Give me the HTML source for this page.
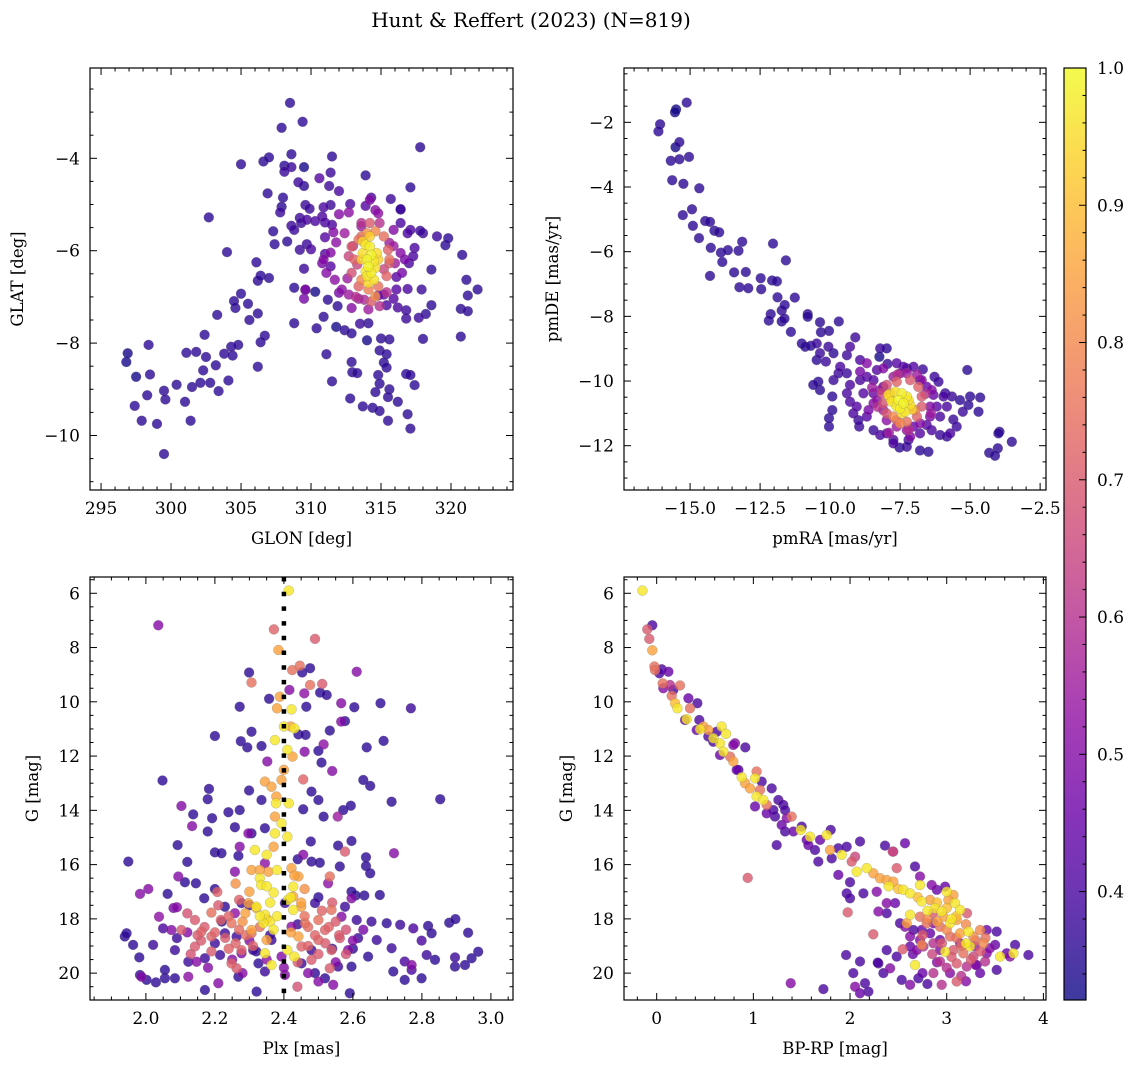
<!DOCTYPE html>
<html><head><meta charset="utf-8">
<style>
html,body{margin:0;padding:0;background:#fff;}
svg{display:block;font-family:"DejaVu Serif","Liberation Serif",serif;}
</style></head>
<body>
<svg id="chart" width="1136" height="1067" viewBox="0 0 1136 1067" xmlns="http://www.w3.org/2000/svg">
<text x="531" y="27" text-anchor="middle" font-size="20">Hunt &amp; Reffert (2023) (N=819)</text>
</svg>
<script>
// ---------- DATA ----------
// Panel 1: [GLON, GLAT, membership probability]
const skyPos = [
[296.8,-8.41,.33],[296.9,-8.22,.33],[298.4,-8.04,.36],[297.5,-8.73,.33],[298.5,-8.68,.36],[297.4,-9.36,.36],[298.3,-9.13,.36],[297.9,-9.68,.36],[299.0,-9.75,.36],[299.5,-9.03,.36],[299.6,-9.22,.36],[299.5,-10.4,.36],[300.4,-8.9,.36],[301.0,-9.27,.36],[301.4,-9.68,.36],[301.1,-8.21,.36],[301.8,-8.19,.36],[301.5,-8.95,.36],[302.1,-8.86,.36],[302.5,-8.3,.36],[302.3,-8.59,.36],[302.4,-7.82,.36],[302.8,-8.86,.36],[303.2,-8.48,.36],[303.4,-9.04,.36],[303.3,-7.39,.36],[303.8,-8.23,.36],[304.1,-8.81,.36],[304.4,-8.27,.36],[304.3,-8.08,.36],[304.8,-8.04,.36],[304.6,-7.24,.36],[304.5,-7.09,.36],[305.0,-6.93,.36],[305.5,-7.15,.36],[305.6,-7.5,.36],[306.2,-8.51,.36],[306.2,-7.36,.36],[306.4,-7.98,.36],[306.7,-7.84,.36],[306.2,-6.65,.36],[306.4,-6.54,.36],[307.0,-6.59,.36],[306.1,-6.25,.36],[304.0,-6.03,.36],[302.7,-5.28,.36],[305.0,-4.13,.36],[306.6,-4.07,.36],[307.0,-3.98,.36],[307.9,-3.34,.36],[308.5,-2.8,.36],[309.4,-3.21,.36],[308.6,-3.91,.36],[308.1,-4.16,.36],[308.6,-4.19,.38],[309.5,-4.19,.33],[308.1,-4.29,.38],[311.5,-3.96,.36],[311.4,-4.31,.38],[310.6,-4.43,.42],[309.1,-4.52,.38],[309.5,-4.6,.36],[311.3,-4.6,.38],[312.0,-4.71,.4],[306.9,-4.76,.36],[308.0,-4.85,.36],[307.8,-5.17,.38],[307.9,-5.05,.36],[307.3,-5.58,.36],[307.4,-5.86,.36],[308.3,-5.8,.36],[308.6,-5.46,.38],[308.8,-5.55,.38],[309.2,-5.29,.38],[309.6,-5.01,.38],[309.9,-5.09,.38],[309.7,-5.33,.4],[309.3,-5.4,.38],[310.3,-5.36,.4],[310.9,-5.06,.4],[311.4,-5.01,.38],[310.8,-5.26,.4],[311.0,-5.39,.4],[311.5,-5.44,.4],[312.8,-4.99,.4],[313.9,-5.03,.42],[314.3,-4.85,.4],[315.7,-4.88,.38],[316.4,-5.11,.38],[317.1,-4.63,.36],[313.9,-4.37,.36],[317.8,-3.76,.36],[309.7,-5.86,.38],[309.2,-5.98,.38],[310.0,-5.97,.4],[309.5,-6.39,.38],[308.8,-6.8,.36],[309.6,-6.85,.38],[310.3,-6.89,.33],[311.4,-6.34,.42],[311.0,-6.07,.42],[311.0,-5.71,.42],[311.2,-7.06,.36],[311.9,-7.2,.36],[310.9,-7.43,.36],[310.4,-7.68,.36],[308.8,-7.57,.36],[311.8,-7.65,.33],[312.4,-7.72,.36],[312.9,-7.79,.36],[313.5,-7.58,.38],[314.1,-7.57,.36],[314.0,-7.94,.33],[315.0,-7.9,.36],[315.6,-7.92,.36],[314.9,-8.16,.36],[315.4,-8.24,.36],[315.2,-8.42,.36],[315.4,-8.53,.36],[312.9,-8.41,.36],[312.95,-8.63,.36],[313.3,-8.65,.36],[311.5,-8.83,.36],[311.1,-8.24,.36],[314.8,-8.69,.36],[314.9,-8.88,.36],[314.6,-9.06,.36],[315.6,-9.0,.36],[315.5,-9.17,.36],[316.2,-9.27,.36],[312.8,-9.2,.36],[313.7,-9.37,.36],[314.4,-9.4,.36],[314.9,-9.47,.36],[315.5,-9.68,.36],[316.9,-9.54,.36],[317.1,-9.85,.36],[316.8,-8.67,.36],[317.1,-8.69,.36],[317.4,-8.91,.36],[318.0,-7.91,.36],[317.7,-7.45,.38],[318.2,-7.37,.36],[318.6,-7.18,.36],[316.8,-7.47,.38],[316.8,-7.29,.38],[316.2,-7.23,.4],[315.4,-7.18,.4],[320.7,-7.86,.36],[320.7,-7.26,.36],[321.2,-7.31,.36],[321.2,-6.97,.36],[321.1,-6.63,.36],[321.9,-6.84,.36],[320.8,-6.09,.36],[318.6,-6.41,.36],[319.6,-5.88,.36],[319.8,-5.73,.36],[319.0,-5.69,.38],[318.0,-5.62,.38],[317.8,-5.57,.38],[317.1,-5.55,.4],[316.4,-5.4,.4],[316.4,-5.1,.38],[316.9,-5.62,.4],[317.4,-5.94,.4],[317.0,-6.27,.4],[317.3,-6.12,.4],[317.9,-6.84,.38],[316.9,-6.83,.4],[316.1,-6.84,.42],[316.1,-6.57,.42],[315.9,-7.04,.42],[314.8,-6.97,.45],[315.2,-6.95,.45],
[312.0,-5.21,.5],[312.7,-5.17,.52],[311.6,-5.6,.5],[312.4,-5.62,.55],[311.8,-5.82,.52],[311.4,-6.04,.5],[310.8,-6.27,.48],[311.1,-6.48,.5],[310.9,-6.19,.5],[311.7,-6.63,.52],[312.2,-6.84,.52],[312.7,-6.95,.55],[313.4,-7.04,.55],[314.1,-7.27,.55],[314.2,-4.9,.5],[314.6,-5.12,.5],[313.6,-5.47,.55],[316.4,-6.05,.5],[316.5,-6.48,.48],[316.0,-6.27,.55],[316.7,-6.19,.48],[315.6,-5.83,.55],[315.9,-5.55,.5],[314.8,-5.19,.52],[313.8,-7.06,.58],[312.9,-7.24,.5],[312.0,-6.91,.48],[309.6,-6.84,.5],[309.5,-7.04,.48],
[313.3,-6.3,.65],[315.2,-6.4,.65],[313.6,-5.4,.6],[314.9,-5.4,.6],[313.2,-7.0,.6],[314.9,-7.2,.6],[312.6,-6.6,.55],[315.9,-5.9,.55],[314.3,-7.1,.7],[314.2,-5.4,.7],[313.0,-5.9,.62],[315.4,-6.9,.6],
[312.9,-5.91,.7],[313.1,-6.19,.72],[312.9,-6.48,.68],[313.4,-6.77,.72],[314.1,-6.84,.78],[314.8,-6.77,.75],[315.4,-6.55,.72],[315.6,-6.27,.7],[315.5,-5.98,.72],[315.2,-5.69,.75],[314.6,-5.58,.8],[313.6,-5.69,.75],[314.0,-5.62,.82],[312.7,-6.12,.65],[313.6,-6.63,.8],[314.6,-6.99,.82],[313.4,-5.76,.75],[315.6,-6.19,.75],
[313.9,-5.87,.97],[314.2,-5.91,.98],[313.7,-6.05,.95],[314.3,-6.09,.99],[314.0,-6.19,.99],[314.5,-6.23,.97],[314.1,-6.34,.99],[313.9,-6.45,.97],[314.3,-6.48,.98],[314.6,-6.37,.96],[314.0,-6.55,.97],[314.5,-6.63,.96],[314.1,-6.7,.95],[314.8,-6.19,.93],[313.6,-6.19,.93],[314.7,-6.05,.95],[314.2,-5.69,.93],[313.7,-5.8,.94]
];

// Panel 2: [pmRA, pmDE, membership probability]
const properMotion = [
[-15.12,-1.39,.36],[-15.5,-1.6,.33],[-15.54,-1.69,.33],[-16.07,-2.06,.36],[-16.13,-2.28,.36],[-15.38,-2.61,.36],[-15.52,-2.77,.33],[-15.69,-3.19,.36],[-15.38,-3.14,.36],[-15.04,-3.07,.36],[-15.64,-3.79,.36],[-15.24,-3.9,.36],[-14.67,-4.04,.36],[-14.93,-4.69,.36],[-15.26,-4.87,.36],[-14.9,-5.2,.36],[-14.68,-5.58,.36],[-14.46,-5.05,.36],[-14.29,-5.08,.36],[-14.13,-5.35,.36],[-13.96,-5.4,.36],[-14.26,-5.88,.36],[-13.9,-6.03,.36],[-13.65,-5.95,.36],[-13.27,-5.97,.36],[-13.14,-5.69,.36],[-13.85,-6.32,.36],[-14.29,-6.75,.36],[-13.43,-6.64,.36],[-13.01,-6.63,.36],[-13.24,-7.1,.36],[-12.92,-7.13,.36],[-12.48,-6.82,.36],[-12.46,-7.16,.36],[-12.07,-6.89,.36],[-11.9,-6.92,.36],[-12.04,-5.75,.36],[-11.58,-6.27,.36],[-11.88,-7.41,.36],[-11.26,-7.42,.36],[-11.73,-7.82,.36],[-11.62,-7.65,.36],[-12.12,-7.93,.36],[-12.19,-8.13,.36],[-11.73,-8.16,.36],[-11.63,-8.07,.36],[-11.4,-8.48,.36],[-10.8,-7.93,.36],[-10.8,-8.01,.36],[-10.36,-8.18,.36],[-10.33,-8.49,.36],[-10.04,-8.45,.36],[-9.69,-8.16,.36],[-11.01,-8.84,.36],[-10.89,-8.94,.36],[-10.69,-8.91,.36],[-10.48,-8.84,.38],[-10.36,-9.14,.38],[-10.48,-9.35,.36],[-10.15,-9.4,.38],[-10.06,-8.94,.38],[-9.1,-8.65,.38],[-9.29,-8.94,.4],[-8.21,-8.99,.38],[-7.98,-8.99,.36],[-8.24,-9.25,.33],[-7.95,-9.47,.38],[-7.26,-9.61,.38],[-6.69,-9.64,.38],[-6.27,-9.87,.38],[-6.13,-10.02,.38],[-5.1,-9.66,.36],[-5.89,-10.38,.38],[-5.65,-10.48,.38],[-5.36,-10.59,.36],[-5.0,-10.48,.36],[-4.64,-10.51,.36],[-5.06,-10.74,.36],[-5.26,-10.95,.38],[-4.7,-10.95,.36],[-5.6,-11.19,.38],[-5.48,-11.41,.38],[-5.71,-11.62,.4],[-3.95,-11.57,.36],[-3.99,-11.62,.36],[-3.51,-11.88,.36],[-4.01,-12.08,.36],[-4.32,-12.22,.36],[-4.11,-12.31,.36],[-6.49,-12.19,.36],[-6.79,-12.15,.36],[-7.52,-12.06,.36],[-7.2,-11.82,.38],[-7.74,-11.82,.4],[-8.21,-11.67,.4],[-8.45,-11.52,.38],[-8.96,-11.41,.38],[-8.99,-11.21,.38],[-10.04,-11.41,.36],[-10.04,-11.15,.36],[-9.92,-10.9,.36],[-9.92,-10.48,.36],[-10.36,-10.28,.36],[-10.42,-10.02,.36],[-10.6,-10.12,.36],[-9.88,-9.97,.38],[-9.64,-9.56,.4],[-9.4,-9.76,.38],[-9.29,-10.12,.4],[-9.4,-10.38,.4],[-9.29,-10.64,.4],[-9.05,-10.79,.42],[-9.17,-11.0,.4],[-8.69,-11.1,.42],[-8.45,-10.38,.45],[-8.69,-9.87,.42],[-8.93,-9.35,.4],[-9.4,-9.2,.38],[-9.88,-9.14,.36],[-9.7,-9.76,.38],[-8.81,-10.38,.42],[-6.37,-11.52,.4],[-6.07,-11.67,.38],[-5.83,-11.72,.38],[-6.79,-11.62,.42],[-7.02,-11.41,.45],[-6.55,-11.36,.42],[-6.07,-11.1,.4],[-6.19,-10.79,.42],[-5.83,-10.79,.4],[-5.95,-10.48,.4],[-6.31,-10.43,.45],[-6.55,-10.18,.45],[-6.79,-9.97,.42],[-7.02,-9.56,.42],[-7.38,-9.56,.42],[-7.62,-9.45,.42],[-8.33,-9.66,.42],[-8.45,-9.97,.42],[-8.1,-10.18,.45],[-8.93,-9.97,.4],[-7.98,-11.62,.42],[-7.74,-11.93,.4],[-7.26,-12.03,.38],
[-8.69,-9.45,.5],[-8.93,-9.71,.48],[-8.33,-10.59,.52],[-8.1,-10.9,.55],[-7.98,-11.21,.52],[-7.62,-11.41,.55],[-7.26,-11.52,.52],[-6.79,-11.31,.5],[-6.43,-11.1,.48],[-6.37,-10.28,.5],[-6.73,-9.97,.52],[-7.26,-9.76,.55],[-7.74,-9.87,.55],[-8.21,-10.28,.55],[-8.45,-10.69,.5],[-8.63,-10.9,.48],[-7.14,-11.72,.5],[-6.43,-10.79,.5],[-8.1,-9.61,.5],[-7.5,-9.76,.52],
[-8.3,-10.8,.6],[-6.6,-10.4,.6],[-7.6,-9.8,.6],[-7.2,-11.5,.6],[-8.5,-10.2,.55],[-6.4,-11.0,.55],[-7.9,-11.6,.55],[-6.9,-9.8,.55],
[-7.98,-10.12,.68],[-7.62,-10.02,.72],[-7.14,-9.97,.7],[-6.85,-10.18,.72],[-6.73,-10.48,.7],[-6.73,-10.79,.7],[-6.9,-11.1,.72],[-7.26,-11.26,.75],[-7.62,-11.21,.72],[-7.98,-11.0,.7],[-8.1,-10.69,.68],[-8.15,-10.38,.65],[-7.86,-10.38,.8],[-6.96,-10.9,.78],[-7.5,-11.31,.8],[-7.74,-11.1,.8],
[-7.92,-10.43,.95],[-7.68,-10.33,.96],[-7.44,-10.38,.98],[-7.26,-10.48,.97],[-7.56,-10.59,.99],[-7.8,-10.64,.96],[-7.38,-10.69,.99],[-7.14,-10.74,.96],[-7.5,-10.85,.98],[-7.32,-10.95,.97],[-7.62,-10.79,.97],[-7.2,-10.59,.96],[-7.86,-10.54,.94],[-7.44,-11.0,.95],[-7.08,-10.88,.94]
];

// Panel 3: [Plx, G, membership probability]
const parallaxMag = [
[2.414,5.90,.97],[2.422,10.28,.97],[2.40,10.91,.97],[2.43,10.98,.97],[2.374,11.41,.97],[2.41,11.77,.97],[2.377,13.74,.97],[2.414,13.74,.97],[2.374,14.85,.97],[2.41,14.97,.97],[2.316,15.46,.97],[2.35,15.64,.97],[2.38,16.20,.97],[2.33,16.50,.97],[2.334,16.75,.97],[2.37,17.03,.97],[2.427,16.81,.97],[2.412,17.30,.97],[2.32,17.55,.97],[2.345,17.85,.97],[2.36,18.10,.97],[2.34,18.16,.97],[2.427,17.67,.97],[2.41,19.15,.97],[2.345,19.27,.97],[2.364,19.70,.97],[2.43,19.39,.97],[2.393,14.48,.97],
[2.36,17.4,.97],[2.38,17.9,.97],[2.35,16.8,.97],[2.42,17.2,.97],[2.37,18.4,.97],[2.33,17.9,.97],
[2.384,8.09,.85],[2.388,9.81,.85],[2.38,10.24,.85],[2.42,10.91,.85],[2.425,12.02,.85],[2.345,12.94,.85],[2.393,12.88,.85],[2.40,12.51,.85],[2.364,13.13,.85],[2.378,13.49,.85],[2.374,14.23,.85],[2.37,15.34,.85],[2.306,16.20,.85],[2.355,16.26,.85],[2.422,16.13,.85],[2.442,16.44,.85],[2.297,17.42,.85],[2.288,17.79,.85],[2.427,17.18,.85],[2.45,17.55,.85],[2.306,18.41,.85],[2.35,18.78,.85],[2.442,18.65,.85],
[2.3,17.0,.85],[2.32,17.6,.85],[2.28,18.1,.82],[2.45,17.4,.85],[2.46,16.9,.82],[2.42,18.5,.85],[2.35,18.0,.85],[2.43,16.4,.85],[2.33,16.2,.85],[2.26,16.7,.82],
[2.371,7.33,.72],[2.49,7.68,.7],[2.424,8.83,.75],[2.446,8.67,.75],[2.306,9.29,.75],[2.476,9.38,.75],[2.511,9.34,.7],[2.456,12.86,.72],[2.207,17.01,.72],[2.19,17.77,.75],[2.217,18.04,.72],[2.248,18.16,.75],[2.142,18.04,.7],[2.161,18.47,.72],[2.19,18.65,.72],[2.142,19.02,.7],[2.277,19.15,.72],[2.248,19.64,.72],[2.263,19.82,.7],[2.461,18.16,.75],[2.50,18.04,.75],[2.519,18.41,.72],[2.538,17.67,.75],[2.533,16.44,.75],[2.50,18.78,.72],[2.538,19.15,.72],[2.48,19.51,.7],[2.533,19.82,.7],[2.451,19.02,.72],[2.306,18.53,.75],[2.577,15.52,.7],[2.562,18.71,.7],[2.103,18.41,.7],[2.439,20.50,.68],
[2.17,18.3,.7],[2.2,18.5,.72],[2.23,18.7,.7],[2.26,18.9,.72],[2.16,18.8,.7],[2.19,19.2,.7],[2.13,19.3,.68],[2.24,19.1,.72],[2.29,18.6,.74],[2.31,19.0,.72],[2.33,18.3,.75],[2.47,18.3,.74],[2.49,18.6,.72],[2.52,18.9,.7],[2.53,18.3,.72],[2.55,18.1,.7],[2.56,18.6,.7],[2.58,18.4,.68],[2.47,19.0,.72],[2.5,19.3,.7],[2.46,17.9,.75],[2.51,17.7,.72],[2.54,17.4,.7],[2.21,17.5,.7],[2.24,17.9,.72],[2.27,18.4,.74],[2.12,17.8,.68],[2.15,18.6,.7],[2.44,19.6,.7],[2.58,19.3,.68],[2.27,17.3,.72],
[2.611,8.89,.5],[2.416,9.56,.5],[2.459,9.69,.52],[2.566,10.05,.5],[2.515,11.57,.52],[2.352,12.20,.5],[2.46,11.84,.5],[2.566,10.73,.5],[2.54,12.55,.5],[2.556,14.23,.55],[2.103,13.84,.5],[2.134,14.58,.5],[2.719,15.58,.5],[2.272,15.34,.5],[2.456,15.64,.5],[2.094,16.44,.5],[2.007,16.90,.5],[1.983,17.08,.5],[2.09,17.57,.5],[2.038,17.92,.52],[2.074,18.41,.5],[2.528,16.69,.52],[2.596,17.24,.5],[2.567,17.92,.5],[2.586,19.15,.5],[2.277,19.27,.5],[2.147,19.58,.5],[2.21,20.37,.5],[2.403,20.07,.5],[2.50,20.31,.5],[2.543,20.43,.5],[2.123,20.13,.52],[1.987,20.13,.5],[2.77,19.70,.5],[2.036,7.18,.5],[2.297,14.85,.5],[2.345,15.95,.52],[2.258,16.26,.5],[2.422,18.29,.52],[2.258,17.79,.52],[2.393,19.39,.5],
[2.3,18.8,.5],[2.18,19.8,.5],[2.25,19.5,.5],[2.4,19.8,.5],[2.47,20.0,.5],[2.55,19.6,.5],[2.6,18.8,.5],[2.63,18.4,.48],[2.12,18.5,.5],[2.08,17.6,.48],[2.35,19.5,.52],[2.28,20.0,.5],
[2.299,8.92,.36],[2.453,8.92,.36],[2.476,8.76,.36],[2.505,9.66,.36],[2.524,9.75,.36],[2.357,9.89,.36],[2.272,10.18,.36],[2.465,10.18,.36],[2.604,10.20,.36],[2.68,10.05,.36],[2.768,10.24,.38],[2.577,10.71,.36],[2.533,11.06,.36],[2.306,11.10,.36],[2.20,11.26,.36],[2.275,11.45,.36],[2.294,11.68,.36],[2.335,11.63,.36],[2.442,11.20,.36],[2.463,11.22,.36],[2.50,11.81,.36],[2.509,12.24,.36],[2.64,11.68,.36],[2.689,11.44,.36],[2.048,12.90,.36],[2.183,13.21,.36],[2.179,13.59,.36],[2.299,13.27,.36],[2.335,13.62,.36],[2.48,13.31,.36],[2.50,13.62,.36],[2.515,14.23,.36],[2.456,13.96,.36],[2.572,13.99,.36],[2.594,13.83,.36],[2.63,12.88,.36],[2.65,13.10,.36],[2.712,13.68,.36],[2.853,13.59,.36],[2.272,13.99,.36],[2.239,14.07,.36],[2.192,14.29,.36],[2.137,14.15,.36],[2.179,14.78,.36],[2.258,14.62,.36],[2.306,14.85,.36],[2.345,14.66,.36],[2.478,15.15,.36],[2.596,15.13,.36],[2.557,15.30,.36],[2.092,15.28,.36],[2.20,15.55,.36],[2.219,15.58,.36],[2.268,15.68,.36],[1.949,15.89,.36],[2.12,15.90,.36],[2.48,15.89,.36],[2.638,15.73,.36],[2.638,16.05,.36],[2.65,16.32,.36],[2.562,16.07,.36],[2.504,15.93,.36],[2.113,16.65,.36],[2.145,16.69,.36],[2.063,17.08,.36],[2.169,17.24,.36],[2.678,17.12,.36],[2.633,17.14,.36],[2.608,17.14,.36],[2.596,17.00,.36],[2.229,17.55,.36],[2.277,17.42,.38],[2.403,17.42,.38],[2.49,17.42,.38],[2.577,17.55,.38],[2.611,18.04,.38],[2.654,18.10,.38],[2.698,18.16,.36],[2.737,18.22,.38],[2.775,18.35,.4],[2.818,18.26,.36],[2.879,18.14,.36],[2.897,18.01,.36],[2.934,18.51,.36],[2.828,18.53,.36],[2.799,18.80,.4],[2.963,19.21,.36],[2.944,19.45,.36],[2.925,19.70,.36],[2.896,19.42,.38],[2.896,19.76,.36],[2.838,19.51,.36],[2.814,19.33,.38],[2.75,19.57,.4],[2.77,19.88,.4],[2.717,19.94,.36],[2.75,20.25,.36],[2.799,20.19,.36],[2.712,19.08,.38],[2.669,18.78,.38],[2.615,18.71,.38],[2.644,19.39,.36],[2.596,19.76,.36],[2.557,19.76,.38],[2.519,20.19,.36],[2.591,20.74,.36],[2.321,20.68,.36],[2.268,20.13,.36],[2.345,19.94,.38],[2.171,20.62,.36],[2.084,20.19,.36],[2.055,20.19,.36],[2.029,20.34,.36],[2.002,20.25,.36],[1.983,20.07,.36],[2.055,19.88,.36],[1.981,19.42,.36],[1.939,18.65,.36],[1.963,18.96,.36],[1.944,18.53,.36],[2.021,18.96,.38],[2.05,18.35,.4],[2.09,18.71,.38],[2.084,19.15,.38],[2.123,19.58,.38],[2.171,19.45,.38],[2.215,19.33,.38],[2.20,18.90,.38],[2.229,18.53,.38],[2.263,18.65,.38],[2.311,19.15,.38],[2.326,19.64,.36],[2.364,18.78,.38],[2.451,19.64,.38],[2.48,19.15,.38],[2.49,20.0,.36],
[2.36,18.6,.38],[2.32,19.2,.36],[2.44,18.2,.38],[2.22,18.1,.36],[2.54,19.1,.38],[2.6,19.1,.36],[2.3,17.5,.38],[2.5,17.2,.36],[2.2,16.9,.36],[2.44,15.8,.36]
];

// Panel 4: [BP-RP, G, membership probability]
const colourMag = [
[-0.148,5.90,.97],[-0.097,7.33,.7],[-0.076,7.68,.7],[-0.045,7.18,.4],[-0.045,8.10,.85],[-0.024,8.70,.75],[-0.017,8.83,.75],[0.052,8.80,.4],[0.121,8.89,.45],[0.062,9.32,.75],[0.138,9.38,.6],[0.241,9.40,.75],[0.155,9.78,.75],[0.19,10.05,.9],[0.328,9.87,.45],[0.421,10.05,.4],[0.345,10.24,.75],[0.214,10.24,.97],[0.31,10.64,.97],[0.441,10.67,.4],[0.448,11.01,.97],[0.483,10.91,.85],[0.534,11.04,.85],[0.586,11.34,.97],[0.672,10.91,.97],[0.717,11.18,.97],[0.655,11.53,.97],[0.621,11.10,.4],[0.81,11.53,.5],[0.917,11.68,.4],[0.69,11.84,.97],[0.759,12.02,.75],[0.793,12.20,.85],[0.845,12.51,.4],[0.879,12.78,.97],[0.914,13.00,.85],[1.034,12.57,.75],[1.017,12.82,.97],[0.966,13.19,.85],[1.069,13.25,.75],[1.034,13.49,.97],[1.103,13.62,.97],[1.138,13.80,.75],[1.086,12.94,.4],[1.19,13.19,.4],[1.259,13.62,.4],[1.31,13.80,.4],[1.328,13.99,.4],[1.224,14.23,.4],[1.017,13.86,.45],[1.397,14.23,.75],[1.345,14.29,.5],[1.49,14.72,.97],[1.293,14.54,.45],[1.328,14.78,.4],[1.241,15.28,.4],[1.552,15.09,.45],[1.586,14.97,.97],[1.69,15.09,.45],[1.759,14.91,.97],[1.80,14.72,.4],[1.793,15.46,.85],[1.914,15.64,.97],[1.879,15.40,.4],[1.966,15.34,.4],[1.672,15.89,.4],[1.81,15.77,.4],[2.017,15.89,.7],[2.052,15.71,.65],[2.103,15.15,.4],[2.069,16.26,.97],[2.172,16.13,.97],[2.241,16.32,.85],[2.31,16.50,.85],[2.379,16.57,.85],[2.448,16.63,.85],[2.552,16.93,.97],[2.621,17.06,.97],[2.362,15.30,.4],[2.448,15.52,.6],[2.483,16.13,.7],[2.672,16.07,.4],[2.724,16.44,.5],[2.724,16.75,.97],[2.741,17.36,.97],[2.828,17.30,.85],[2.879,17.61,.97],[2.948,17.73,.97],[3.0,17.00,.97],[3.069,17.12,.85],[3.017,17.30,.85],[3.086,17.42,.97],[3.138,17.67,.97],[2.897,16.93,.45],[2.966,17.92,.85],[3.034,18.16,.97],[3.103,18.04,.85],[3.21,17.79,.7],[3.224,18.47,.97],[3.138,18.53,.85],[3.276,18.65,.8],[3.241,19.02,.97],[3.345,18.41,.8],[3.379,18.90,.8],[3.517,18.47,.4],[3.552,19.39,.97],[3.69,19.27,.97],[3.707,18.96,.4],[3.845,19.33,.4],[2.793,18.16,.75],[2.621,17.85,.97],[2.586,18.16,.85],[2.724,17.92,.75],[2.862,17.79,.7],[2.931,18.29,.75],[3.034,18.65,.75],[3.069,19.15,.7],[3.172,19.27,.75],[3.276,19.39,.65],[3.103,19.64,.7],[3.207,19.76,.6],[2.983,19.21,.97],[2.862,18.90,.6],[2.759,19.02,.6],[2.741,18.96,.8],[2.672,19.70,.97],[2.931,19.57,.6],[2.862,20.0,.6],[2.948,20.43,.6],[3.103,20.31,.7],[3.397,19.57,.6],[3.448,19.08,.5],[3.50,18.96,.45],[3.655,19.39,.5],[0.941,16.49,.7],[1.976,17.76,.7],[2.241,18.57,.7],[2.545,19.12,.7],[2.441,15.52,.65],
[2.8,18.0,.8],[2.9,18.1,.85],[3.0,18.4,.8],[3.1,18.7,.75],[3.2,18.2,.8],[3.3,18.8,.75],[2.95,18.9,.7],[3.05,19.4,.7],[3.15,19.0,.75],[3.25,19.5,.7],[3.35,19.2,.7],[2.85,19.3,.65],[2.75,18.6,.7],[3.0,17.6,.9],[3.1,17.9,.9],[2.9,17.4,.9],[2.8,17.7,.97],[3.05,18.0,.97],[3.2,18.9,.97],[2.7,17.2,.9],[2.5,16.9,.9],[2.4,16.8,.97],[3.4,18.7,.75],[3.0,19.8,.6],[3.15,20.1,.6],
[2.9,19.6,.5],[3.2,20.3,.5],[2.75,20.0,.45],[3.3,19.7,.5],[2.65,19.3,.45],[2.8,20.4,.4],
[1.879,16.38,.45],[2.0,16.65,.4],[1.966,17.06,.4],[2.0,17.24,.4],[2.138,17.06,.4],[2.276,17.00,.5],[2.379,17.42,.5],[2.466,17.42,.45],[2.293,17.73,.5],[2.379,17.79,.4],[2.517,18.16,.4],[2.569,18.29,.5],[2.655,18.41,.4],[2.621,18.65,.5],[2.724,18.78,.5],[2.69,19.15,.5],[2.483,19.39,.4],[2.379,19.15,.4],[2.414,19.82,.5],[2.345,20.0,.4],[2.534,20.25,.4],[2.621,20.43,.5],[2.707,20.19,.4],[2.103,19.57,.4],[2.034,20.0,.4],[2.155,20.37,.4],[2.19,20.68,.4],[2.103,20.74,.45],[2.052,20.50,.5],[2.293,19.64,.4],[1.724,20.59,.4],[1.386,20.37,.5],[1.959,19.33,.4],[2.286,19.61,.4],[2.931,19.15,.5],[3.034,20.0,.5],[3.345,20.0,.45],[3.31,19.70,.45],[3.517,19.88,.4],[3.62,19.27,.45],[3.414,19.27,.5],[3.293,19.02,.55],[2.931,18.78,.45],[2.828,18.53,.45],[2.621,19.02,.45],[2.862,18.16,.5],[2.741,18.41,.45],[3.138,18.90,.5],[3.414,18.41,.45],[2.983,16.81,.45],[2.845,16.75,.5],[2.569,15.21,.45],[1.569,15.28,.45],[1.638,15.46,.4],[1.414,14.78,.45],[1.5,14.60,.4],[1.138,14.11,.45],[1.207,13.99,.4],[0.828,12.51,.45],[0.793,11.59,.5],[0.655,11.96,.45],[0.586,11.47,.4],[0.534,11.28,.4],[0.414,11.04,.45],[0.293,10.67,.45],[0.172,9.56,.4],[0.069,9.50,.5],[0.028,8.95,.4]
];

// Tick labels
const p1XTicks = [295,300,305,310,315,320];
const p1YTicks = [-10,-8,-6,-4];
const p2XTicks = [-15,-12.5,-10,-7.5,-5,-2.5];
const p2YTicks = [-12,-10,-8,-6,-4,-2];
const p3XTicks = [2.0,2.2,2.4,2.6,2.8,3.0];
const magTicks = [6,8,10,12,14,16,18,20];
const p4XTicks = [0,1,2,3,4];
const cbarTicks = [0.4,0.5,0.6,0.7,0.8,0.9,1.0];
const referencePlx = [2.4];

// ---------- RENDER ----------
const NS = 'http://www.w3.org/2000/svg';
const svg = document.getElementById('chart');
const VMIN = 0.321, VMAX = 1.0;
const plasma = ['#0d0887','#41049d','#6a00a8','#8f0da4','#b12a90','#cc4778','#e16462','#f2844b','#fca636','#fcce25','#f0f921'];
function hex(h){return [parseInt(h.substr(1,2),16),parseInt(h.substr(3,2),16),parseInt(h.substr(5,2),16)];}
function cmap(v){
  let t=(v-VMIN)/(VMAX-VMIN); t=Math.max(0,Math.min(1,t));
  const f=t*10, i=Math.min(9,Math.floor(f)), r=f-i;
  const a=hex(plasma[i]), b=hex(plasma[i+1]);
  return 'rgb('+a.map((x,k)=>Math.round(x+(b[k]-x)*r)).join(',')+')';
}
function mk(tag, attrs, parent){
  const e=document.createElementNS(NS,tag);
  for(const k in attrs) e.setAttribute(k,attrs[k]);
  (parent||svg).appendChild(e); return e;
}
function fmt(v,d){const s=v.toFixed(d); return s.replace('-','\u2212');}

function panel(cfg){
  const g=mk('g',{});
  
  
  const {x0,x1,y0,y1,xd,yd}=cfg;
  const sx=v=>x0+(v-xd[0])/(xd[1]-xd[0])*(x1-x0);
  const sy=v=>y0+(v-yd[0])/(yd[1]-yd[0])*(y1-y0);
  const pg=mk('g',{},g);
  
  
  const pts=cfg.data.slice().sort((a,b)=>a[2]-b[2]);
  pts.forEach(p=>{
    const c=mk('circle',{cx:sx(p[0]).toFixed(1),cy:sy(p[1]).toFixed(1),r:5,fill:cmap(p[2]),'fill-opacity':0.8,stroke:'#777','stroke-width':0.4,'stroke-opacity':0.6},pg);
    
    
  });
  if(cfg.vline){
    cfg.vline.forEach(v=>{
      const l=mk('line',{x1:sx(v),x2:sx(v),y1:y0,y2:y1,stroke:'#000','stroke-width':4.5,'stroke-dasharray':'4.5,10.2'},g);
      
      
    });
  }
  const fr=mk('rect',{x:x0,y:y0,width:x1-x0,height:y1-y0,fill:'none',stroke:'#000','stroke-width':1.2},g);
  
  
  const tg=mk('g',{stroke:'#000','stroke-width':1},g);
  const xmin=Math.min(xd[0],xd[1]), xmax=Math.max(xd[0],xd[1]);
  for(let v=Math.ceil(xmin/cfg.xminor)*cfg.xminor; v<=xmax+1e-9; v+=cfg.xminor){
    const X=sx(v); const major=cfg.xticks.some(t=>Math.abs(t-v)<1e-6); const L=major?7:3.5;
    mk('line',{x1:X,x2:X,y1:y1,y2:y1-L},tg); mk('line',{x1:X,x2:X,y1:y0,y2:y0+L},tg);
  }
  const ymin=Math.min(yd[0],yd[1]), ymax=Math.max(yd[0],yd[1]);
  for(let v=Math.ceil(ymin/cfg.yminor)*cfg.yminor; v<=ymax+1e-9; v+=cfg.yminor){
    const Y=sy(v); const major=cfg.yticks.some(t=>Math.abs(t-v)<1e-6); const L=major?7:3.5;
    mk('line',{x1:x0,x2:x0+L,y1:Y,y2:Y},tg); mk('line',{x1:x1,x2:x1-L,y1:Y,y2:Y},tg);
  }
  cfg.xticks.forEach(t=>{
    const e=mk('text',{x:sx(t),y:y1+24,'text-anchor':'middle','font-size':17},g);
    e.textContent=fmt(t,cfg.xdec);
    
    
  });
  cfg.yticks.forEach(t=>{
    const e=mk('text',{x:x0-10,y:sy(t)+6,'text-anchor':'end','font-size':17},g);
    e.textContent=fmt(t,cfg.ydec);
    
    
  });
  const xl=mk('text',{x:(x0+x1)/2,y:y1+54,'text-anchor':'middle','font-size':16.5},g);
  xl.textContent=cfg.xlabel;
  
  
  const yl=mk('text',{x:0,y:0,'text-anchor':'middle','font-size':16.5,transform:`translate(${cfg.ylx},${(y0+y1)/2}) rotate(-90)`},g);
  yl.textContent=cfg.ylabel;
  
  
}

panel({name:'sky-position-panel',x0:90,x1:513,y0:68,y1:490,xd:[294.21,324.43],yd:[-2.045,-11.18],data:skyPos,xticks:p1XTicks,yticks:p1YTicks,xminor:1,yminor:0.5,xdec:0,ydec:0,xlabel:'GLON [deg]',ylabel:'GLAT [deg]',ylx:23});
panel({name:'proper-motion-panel',x0:624,x1:1046,y0:68,y1:490,xd:[-17.36,-2.29],yd:[-0.32,-13.37],data:properMotion,xticks:p2XTicks,yticks:p2YTicks,xminor:0.5,yminor:0.5,xdec:1,ydec:0,xlabel:'pmRA [mas/yr]',ylabel:'pmDE [mas/yr]',ylx:558});
panel({name:'parallax-magnitude-panel',x0:90,x1:513,y0:577,y1:1000,xd:[1.838,3.064],yd:[5.40,20.99],data:parallaxMag,xticks:p3XTicks,yticks:magTicks,xminor:0.05,yminor:0.5,xdec:1,ydec:0,xlabel:'Plx [mas]',ylabel:'G [mag]',ylx:38,vline:referencePlx});
panel({name:'colour-magnitude-panel',x0:624,x1:1046,y0:577,y1:1000,xd:[-0.338,4.027],yd:[5.40,20.99],data:colourMag,xticks:p4XTicks,yticks:magTicks,xminor:0.2,yminor:0.5,xdec:0,ydec:0,xlabel:'BP-RP [mag]',ylabel:'G [mag]',ylx:572});

(function(){
  const cx0=1064,cx1=1086,cy0=68,cy1=1000;
  const sv=v=>cy1-(v-VMIN)/(VMAX-VMIN)*(cy1-cy0);
  const defs=mk('defs',{});
  const lg=mk('linearGradient',{id:'cbg',x1:0,y1:1,x2:0,y2:0},defs);
  for(let i=0;i<=20;i++){const v=VMIN+(VMAX-VMIN)*i/20; mk('stop',{offset:(i/20),'stop-color':cmap(v)},lg);}
  const g=mk('g',{});
  
  
  mk('rect',{x:cx0,y:cy0,width:cx1-cx0,height:cy1-cy0,fill:'url(#cbg)','fill-opacity':0.8},g);
  mk('rect',{x:cx0,y:cy0,width:cx1-cx0,height:cy1-cy0,fill:'none',stroke:'#000','stroke-width':1.2},g);
  for(let v=0.34; v<=1.0001; v+=0.02){
    const major=cbarTicks.some(t=>Math.abs(t-v)<1e-6);
    mk('line',{x1:cx1,x2:cx1-(major?7:3.5),y1:sv(v),y2:sv(v),stroke:'#000','stroke-width':1},g);
  }
  cbarTicks.forEach(t=>{
    const e=mk('text',{x:cx1+11,y:sv(t)+6,'font-size':17},g);
    e.textContent=t.toFixed(1);
    
    
  });
})();
</script>
</body></html>
